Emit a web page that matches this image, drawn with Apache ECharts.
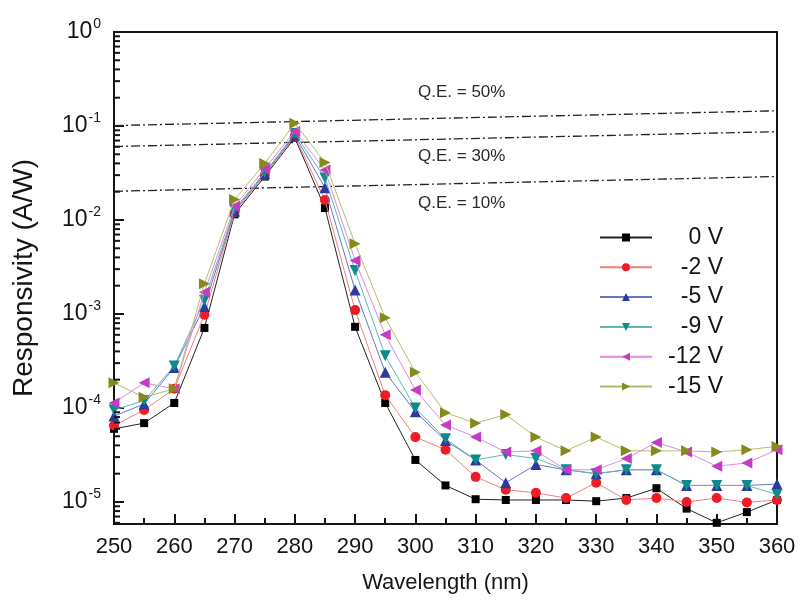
<!DOCTYPE html>
<html>
<head>
<meta charset="utf-8">
<script src="https://cdn.jsdelivr.net/npm/echarts@6/dist/echarts.min.js"></script>
<style>
  html, body { margin: 0; padding: 0; background: #ffffff; }
  #chart { width: 804px; height: 612px; }
</style>
</head>
<body>
<div id="chart"></div>
<script>
// Wavelength sampling (nm)
const wavelengths = [250, 255, 260, 265, 270, 275, 280, 285, 290, 295, 300, 305,
                     310, 315, 320, 325, 330, 335, 340, 345, 350, 355, 360];

// Responsivity (A/W) at each bias
const r0V   = [6.0e-5, 6.9e-5, 1.13e-4, 7.1e-4, 1.15e-2, 2.9e-2, 7.5e-2, 1.34e-2, 7.3e-4, 1.13e-4, 2.8e-5, 1.5e-5,
               1.07e-5, 1.05e-5, 1.05e-5, 1.05e-5, 1.02e-5, 1.1e-5, 1.4e-5, 8.5e-6, 6.0e-6, 7.8e-6, 1.05e-5];
const rm2V  = [6.5e-5, 9.5e-5, 1.6e-4, 9.8e-4, 1.2e-2, 3.0e-2, 7.8e-2, 1.63e-2, 1.1e-3, 1.37e-4, 4.9e-5, 3.6e-5,
               1.85e-5, 1.35e-5, 1.25e-5, 1.1e-5, 1.6e-5, 1.05e-5, 1.1e-5, 1.0e-5, 1.1e-5, 9.9e-6, 1.05e-5];
const rm5V  = [8.2e-5, 1.1e-4, 2.7e-4, 1.2e-3, 1.25e-2, 3.1e-2, 8.0e-2, 2.2e-2, 1.8e-3, 2.4e-4, 9.1e-5, 4.5e-5,
               2.8e-5, 1.6e-5, 2.5e-5, 2.2e-5, 2.0e-5, 2.2e-5, 2.2e-5, 1.5e-5, 1.5e-5, 1.5e-5, 1.55e-5];
const rm9V  = [9.5e-5, 1.2e-4, 2.8e-4, 1.4e-3, 1.3e-2, 3.2e-2, 8.3e-2, 2.8e-2, 2.9e-3, 3.6e-4, 1.0e-4, 4.7e-5,
               2.8e-5, 3.2e-5, 2.9e-5, 2.2e-5, 2.0e-5, 2.2e-5, 2.2e-5, 1.5e-5, 1.5e-5, 1.5e-5, 1.2e-5];
const rm12V = [1.13e-4, 1.85e-4, 1.6e-4, 1.7e-3, 1.4e-2, 3.5e-2, 8.8e-2, 3.4e-2, 3.7e-3, 6.0e-4, 1.55e-4, 6.6e-5,
               4.9e-5, 3.4e-5, 3.5e-5, 2.2e-5, 2.2e-5, 2.9e-5, 4.3e-5, 3.4e-5, 2.4e-5, 2.6e-5, 3.6e-5];
const rm15V = [1.85e-4, 1.3e-4, 1.6e-4, 2.1e-3, 1.65e-2, 4.0e-2, 1.07e-1, 4.1e-2, 5.6e-3, 9.1e-4, 2.4e-4, 8.9e-5,
               6.9e-5, 8.5e-5, 4.9e-5, 3.5e-5, 4.9e-5, 3.5e-5, 3.5e-5, 3.5e-5, 3.4e-5, 3.6e-5, 3.9e-5];

// Constant quantum-efficiency reference lines (end points at 250 and 360 nm)
const qeEnds = [250, 360];
const qe50 = [0.101, 0.145];
const qe30 = [0.0605, 0.087];
const qe10 = [0.0202, 0.029];
const qeLabels = ['Q.E. = 50%', 'Q.E. = 30%', 'Q.E. = 10%'];

const biasNames = ['0 V', '-2 V', '-5 V', '-9 V', '-12 V', '-15 V'];

const X_MIN = 250, X_MAX = 360;
const Y_MIN = 5.83e-6, Y_MAX = 1;

const FONT = '"Liberation Sans", Arial, sans-serif';
const INK = '#151515';

const pairs = (ys) => wavelengths.map((w, i) => [w, ys[i]]);

const styles = [
  { color: '#000000', line: '#222222', symbol: 'rect', size: 8 },
  { color: '#ee1c25', line: '#f08080', symbol: 'circle', size: 10 },
  { color: '#2b3a9c', line: '#6a74c8', symbol: 'triangle', size: 11 },
  { color: '#0f8a8c', line: '#5fb8b8', symbol: 'path://M0,0 L10,0 L5,9 Z', size: 11 },
  { color: '#c43cc4', line: '#e08ae0', symbol: 'path://M9,0 L9,10 L0,5 Z', size: 11 },
  { color: '#858a1c', line: '#b8bc6a', symbol: 'path://M0,0 L0,10 L9,5 Z', size: 11 }
];
const seriesValues = [r0V, rm2V, rm5V, rm9V, rm12V, rm15V];

// Minor ticks of the log axis (2..9 within each decade)
const minorVals = [];
for (let e = -6; e < 0; e++) {
  for (let m = 2; m <= 9; m++) {
    const v = m * Math.pow(10, e);
    if (v > Y_MIN && v < Y_MAX) minorVals.push(v);
  }
}

const dataSeries = biasNames.map((name, i) => ({
  name,
  type: 'line',
  data: pairs(seriesValues[i]),
  symbol: styles[i].symbol,
  symbolSize: styles[i].size,
  itemStyle: { color: styles[i].color },
  lineStyle: { color: styles[i].line, width: 1 },
  z: 3 + i
}));

const qeSeries = [qe50, qe30, qe10].map((vals, k) => ({
  name: qeLabels[k],
  type: 'line',
  data: qeEnds.map((w, i) => [w, vals[i]]),
  symbol: 'none',
  silent: true,
  lineStyle: { color: '#222', width: 1.3, type: [9, 3, 2, 3] },
  z: 2
}));

// Short inward ticks at 2..9 of every decade, placed through the axis scales
const minorTickSeries = {
  type: 'custom',
  coordinateSystem: 'cartesian2d',
  encode: { x: 0, y: 1 },
  silent: true,
  data: minorVals.map(v => [X_MIN, v]),
  renderItem: (params, api) => {
    const p = api.coord([api.value(0), api.value(1)]);
    return {
      type: 'line',
      shape: { x1: p[0], y1: p[1], x2: p[0] + 6, y2: p[1] },
      style: { stroke: INK, lineWidth: 2 }
    };
  },
  z: 20
};

const chart = echarts.init(document.getElementById('chart'));
chart.setOption({
  backgroundColor: '#ffffff',
  animation: false,
  grid: {
    left: 114, right: 27, top: 32, bottom: 88,
    show: true, borderColor: INK, borderWidth: 2, backgroundColor: 'transparent'
  },
  xAxis: {
    type: 'value',
    min: X_MIN, max: X_MAX, interval: 10,
    name: 'Wavelength (nm)',
    nameLocation: 'middle',
    nameGap: 48,
    nameTextStyle: { fontFamily: FONT, fontSize: 22, color: INK },
    axisLine: { lineStyle: { color: INK, width: 2 } },
    axisTick: { inside: true, length: 10, lineStyle: { color: INK, width: 2 } },
    minorTick: { show: true, splitNumber: 2, length: 6, lineStyle: { color: INK, width: 2 } },
    splitLine: { show: false },
    axisLabel: { fontFamily: FONT, fontSize: 22, color: INK, margin: 12 }
  },
  yAxis: {
    type: 'log',
    logBase: 10,
    min: Y_MIN, max: Y_MAX,
    name: 'Responsivity (A/W)',
    nameLocation: 'middle',
    nameGap: 76,
    nameTextStyle: { fontFamily: FONT, fontSize: 28, color: INK },
    axisLine: { show: true, lineStyle: { color: INK, width: 2 } },
    axisTick: { inside: true, length: 10, lineStyle: { color: INK, width: 2 } },
    splitLine: { show: false },
    axisLabel: {
      fontFamily: FONT, fontSize: 22, color: INK, margin: 13,
      showMinLabel: false,
      formatter: (v) => {
        const l = Math.log10(v);
        const e = Math.round(l);
        if (Math.abs(l - e) > 1e-6) return '';
        return '{b|10}{s|' + e + '}';
      },
      rich: {
        b: { fontFamily: FONT, fontSize: 23, color: INK },
        s: { fontFamily: FONT, fontSize: 14, color: INK, padding: [0, 0, 15, 1] }
      }
    }
  },
  legend: {
    data: biasNames,
    orient: 'vertical',
    left: 594, top: 221,
    itemWidth: 52, itemHeight: 10,
    itemGap: 6.8,
    formatter: (name) => '{t|' + name + '}',
    textStyle: {
      fontFamily: FONT, fontSize: 23, color: INK,
      rich: { t: { fontFamily: FONT, fontSize: 23, color: INK, width: 66, align: 'right', lineHeight: 20 } }
    }
  },
  graphic: qeLabels.map((txt, k) => ({
    type: 'text',
    left: 418,
    top: [84, 148, 195][k],
    style: { text: txt, font: '17px ' + FONT, fill: '#2a2a2a' },
    silent: true,
    z: 20
  })),
  series: [...qeSeries, ...dataSeries, minorTickSeries]
});
</script>
</body>
</html>
